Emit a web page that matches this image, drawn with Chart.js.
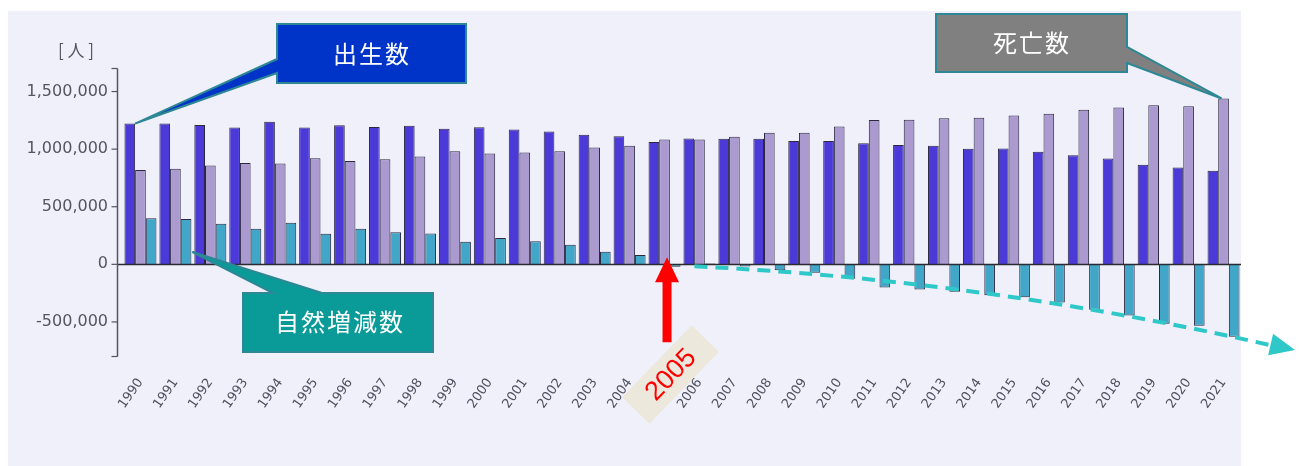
<!DOCTYPE html>
<html>
<head>
<meta charset="utf-8">
<script src="https://cdn.jsdelivr.net/npm/chart.js@4"></script>
<style>
  html, body { margin: 0; padding: 0; background: #ffffff; }
  #wrap { width: 1302px; height: 466px; }
</style>
</head>
<body>
<div id="wrap"><canvas id="c" width="1302" height="466"></canvas></div>
<script>
// ---- data ----
const years = ['1990','1991','1992','1993','1994','1995','1996','1997','1998','1999','2000','2001','2002','2003','2004','2005','2006','2007','2008','2009','2010','2011','2012','2013','2014','2015','2016','2017','2018','2019','2020','2021'];
const births = [1222000,1223000,1209000,1188000,1238000,1187000,1207000,1192000,1203000,1178000,1191000,1171000,1154000,1124000,1111000,1063000,1093000,1090000,1091000,1070000,1071000,1051000,1037000,1030000,1004000,1006000,977000,946000,918000,865000,841000,812000];
const deaths = [820000,830000,857000,879000,876000,922000,896000,913000,936000,982000,962000,970000,982000,1015000,1029000,1084000,1084000,1108000,1142000,1142000,1197000,1253000,1256000,1268000,1273000,1291000,1308000,1341000,1362000,1381000,1373000,1440000];
const naturalChange = [401000,393000,352000,310000,362000,265000,310000,278000,267000,196000,229000,200000,171000,109000,82000,-21000,8000,-19000,-51000,-72000,-126000,-202000,-219000,-239000,-269000,-285000,-331000,-394000,-444000,-516000,-532000,-628000];
const yTickValues = [-500000, 0, 500000, 1000000, 1500000];
const yMin = -800000, yMax = 1700000;
const seriesNames = ['出生数', '死亡数', '自然増減数'];
const unitLabel = '[ 人 ]';
const markYear = '2005';

// ---- decoration plugins ----
const bgPlugin = {
  id: 'bg',
  beforeDraw(chart) {
    const ctx = chart.ctx;
    ctx.save();
    ctx.fillStyle = '#ffffff';
    ctx.fillRect(0, 0, chart.width, chart.height);
    ctx.fillStyle = '#f0f0fb';
    ctx.fillRect(8, 11, 1233, 455);
    ctx.restore();
  }
};

const axisPlugin = {
  id: 'axisDraw',
  afterDatasetsDraw(chart) {
    const ctx = chart.ctx;
    const y = chart.scales.y;
    const area = chart.chartArea;
    const ax = 117.5;
    ctx.save();
    const y0 = Math.round(y.getPixelForValue(0)) + 0.5;
    ctx.strokeStyle = '#2a2a30';
    ctx.lineWidth = 1.5;
    ctx.beginPath();
    ctx.moveTo(ax, y0);
    ctx.lineTo(area.right, y0);
    ctx.stroke();
    ctx.strokeStyle = '#555560';
    ctx.lineWidth = 1.5;
    ctx.beginPath();
    ctx.moveTo(ax, area.top);
    ctx.lineTo(ax, area.bottom);
    ctx.stroke();
    const marks = [yMin].concat(yTickValues, [yMax]);
    ctx.lineWidth = 1.2;
    marks.forEach(v => {
      const py = y.getPixelForValue(v);
      ctx.beginPath();
      ctx.moveTo(ax - 6, py);
      ctx.lineTo(ax, py);
      ctx.stroke();
    });
    ctx.restore();
  },
  afterDraw(chart) {
    const ctx = chart.ctx;
    const xs = chart.scales.x, ys = chart.scales.y;
    ctx.save();
    ctx.fillStyle = '#555560';
    ctx.font = '17px "Noto Sans CJK JP", "DejaVu Sans"';
    ctx.textAlign = 'center';
    ctx.textBaseline = 'middle';
    ctx.fillText(unitLabel, 76, 51);

    const jp = '"Noto Sans CJK JP", "Noto Sans CJK SC", sans-serif';
    const callout = (pts, fill, text, tx, ty) => {
      ctx.beginPath();
      ctx.moveTo(pts[0][0], pts[0][1]);
      for (let i = 1; i < pts.length; i++) ctx.lineTo(pts[i][0], pts[i][1]);
      ctx.closePath();
      ctx.fillStyle = fill;
      ctx.fill();
      ctx.strokeStyle = '#2d8794';
      ctx.lineWidth = 2;
      ctx.lineJoin = 'miter';
      ctx.stroke();
      ctx.fillStyle = '#ffffff';
      ctx.font = '24px ' + jp;
      ctx.letterSpacing = '2px';
      ctx.textAlign = 'center';
      ctx.textBaseline = 'middle';
      ctx.fillText(text, tx + 1, ty);
      ctx.letterSpacing = '0px';
    };
    const mb = chart.getDatasetMeta(0).data[0];
    const tipB = [mb.x + mb.width / 2, mb.y];
    const md = chart.getDatasetMeta(1).data[years.length - 1];
    const tipD = [md.x - 2, md.y];
    const mn = chart.getDatasetMeta(2).data[1];
    const tipN = [mn.x + mn.width / 2 + 1, ys.getPixelForValue(107000)];

    callout([[277,24],[466,24],[466,83],[277,83],[277,73],tipB,[277,59]], '#0033c8', seriesNames[0], 371, 54);
    callout([[936,14],[1127,14],[1127,47],tipD,[1127,63],[1127,72],[936,72]], '#808080', seriesNames[1], 1031, 43);
    callout([[243,293],[273,293],tipN,[322,293],[433,293],[433,352],[243,352]], '#0a9a98', seriesNames[2], 339, 322);

    const ax5 = xs.getPixelForValue(years.indexOf(markYear)) + 2.5;
    const tipY = ys.getPixelForValue(0) - 7;
    ctx.fillStyle = '#ff0000';
    ctx.beginPath();
    ctx.moveTo(ax5, tipY);
    ctx.lineTo(ax5 + 12, tipY + 25);
    ctx.lineTo(ax5 + 4.5, tipY + 25);
    ctx.lineTo(ax5 + 4.5, tipY + 85);
    ctx.lineTo(ax5 - 4.5, tipY + 85);
    ctx.lineTo(ax5 - 4.5, tipY + 25);
    ctx.lineTo(ax5 - 12, tipY + 25);
    ctx.closePath();
    ctx.fill();

    ctx.save();
    ctx.translate(670.5, 374.5);
    ctx.rotate(-46 * Math.PI / 180);
    ctx.fillStyle = '#ece9dc';
    ctx.fillRect(-50, -19, 100, 38);
    ctx.fillStyle = '#ff0000';
    ctx.font = '27px "Liberation Sans", Arial, sans-serif';
    ctx.textAlign = 'center';
    ctx.textBaseline = 'middle';
    ctx.fillText(markYear, 0, 1);
    ctx.restore();

    const p0x = xs.getPixelForValue(years.indexOf('2006')) - 5, p0y = ys.getPixelForValue(0) + 2;
    const p2x = 1274, p2y = 346;
    const p1x = (p0x + p2x) / 2, p1y = 280;
    ctx.strokeStyle = '#2fc8c8';
    ctx.lineWidth = 4;
    ctx.setLineDash([13, 8]);
    ctx.beginPath();
    ctx.moveTo(p0x, p0y);
    ctx.quadraticCurveTo(p1x, p1y, p2x, p2y);
    ctx.stroke();
    ctx.setLineDash([]);
    const ang = Math.atan2(p2y - p1y, p2x - p1x);
    const tx = 1295, ty = 350;
    const L = 25, W = 11;
    const bx = tx - L * Math.cos(ang), by = ty - L * Math.sin(ang);
    ctx.fillStyle = '#2fc8c8';
    ctx.beginPath();
    ctx.moveTo(tx, ty);
    ctx.lineTo(bx - W * Math.sin(ang), by + W * Math.cos(ang));
    ctx.lineTo(bx + W * Math.sin(ang), by - W * Math.cos(ang));
    ctx.closePath();
    ctx.fill();
    ctx.restore();
  }
};

Chart.defaults.font.family = '"DejaVu Sans", sans-serif';

new Chart(document.getElementById('c'), {
  type: 'bar',
  data: {
    labels: years,
    datasets: [
      { label: seriesNames[0], data: births, backgroundColor: '#4b3ad8', borderColor: '#2b2840', borderWidth: 1 },
      { label: seriesNames[1], data: deaths, backgroundColor: '#aa9ad0', borderColor: '#2b2840', borderWidth: 1 },
      { label: seriesNames[2], data: naturalChange, backgroundColor: '#42a6c8', borderColor: '#2b2840', borderWidth: 1 }
    ]
  },
  options: {
    responsive: false,
    devicePixelRatio: 1,
    animation: false,
    layout: { padding: { left: 0, top: 68.5, right: 61, bottom: 0 } },
    plugins: { legend: { display: false }, tooltip: { enabled: false } },
    datasets: { bar: { categoryPercentage: 0.916, barPercentage: 1.0 } },
    scales: {
      x: {
        grid: { display: false, drawTicks: false },
        border: { display: false },
        ticks: {
          color: '#50505e',
          font: { size: 13 },
          minRotation: 55,
          maxRotation: 55,
          padding: 19,
          autoSkip: false
        },
        afterFit(scale) { scale.height = 109.5; }
      },
      y: {
        min: yMin,
        max: yMax,
        grid: { display: false, drawTicks: false },
        border: { display: false },
        ticks: {
          stepSize: 500000,
          color: '#555560',
          font: { size: 16 },
          padding: 15,
          callback: v => Number(v).toLocaleString('en-US')
        },
        afterBuildTicks(scale) {
          scale.ticks = yTickValues.map(v => ({ value: v }));
        },
        afterFit(scale) { scale.width = 123; }
      }
    }
  },
  plugins: [bgPlugin, axisPlugin]
});
</script>
</body>
</html>
